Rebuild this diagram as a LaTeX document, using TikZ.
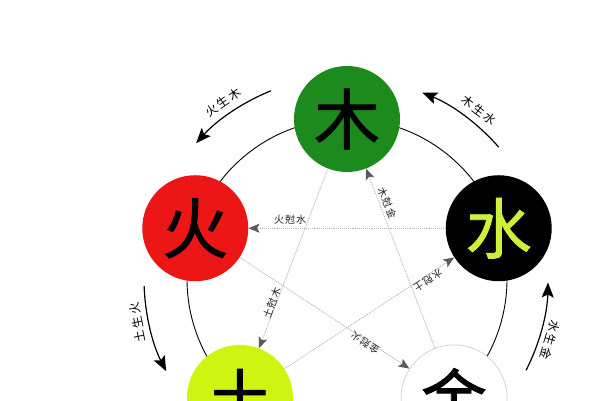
\documentclass[tikz,border=0pt]{standalone}
\usepackage{fontspec}
\newfontfamily\cjk{Noto Sans CJK SC}
\newfontfamily\cjkb{Noto Sans CJK SC}[FakeBold=1.2]
\usetikzlibrary{arrows.meta,calc}
\definecolor{mugreen}{RGB}{28,138,28}
\definecolor{huored}{RGB}{236,22,22}
\definecolor{tuyellow}{RGB}{206,244,18}
\definecolor{shuitext}{RGB}{204,240,60}
\begin{document}
\begin{tikzpicture}[x=1pt,y=1pt,
  element/.style={circle,minimum size=106pt,inner sep=0pt,font=\cjkb\fontsize{66}{66}\selectfont},
  ke/.style={draw=gray!60,densely dotted,line width=0.9pt,-{Stealth[length=11pt,width=9pt,inset=2.5pt,color=gray!70!black]}},
  sheng/.style={line width=1.2pt,-{Stealth[length=15pt,width=12pt,inset=3pt]}},
  kelabel/.style={font=\cjk\fontsize{10}{10}\selectfont,text=gray!25!black,inner sep=0pt},
  shenglabel/.style={font=\cjk\fontsize{12}{12}\selectfont,inner sep=0pt}]
\useasboundingbox (0,0) rectangle (600,400);
\clip (0,0) rectangle (600,400);
\fill[white] (0,0) rectangle (600,400);
\coordinate (C) at (347,121);
\draw[line width=0.9pt] (C) circle[radius=160];
\node[element,fill=mugreen] (mu) at ($(C)+(90:160)$) {木};
\node[element,fill=huored] (huo) at ($(C)+(161.5:160)$) {火};
\node[element,fill=black,text=shuitext] (shui) at ($(C)+(18.5:160)$) {水};
\node[element,fill=tuyellow] (tu) at ($(C)+(228:160)$) {土};
\node[element,fill=white,draw=gray!35,line width=0.8pt] (jin) at ($(C)+(312:160)$) {金};
\draw[ke] (shui) -- (huo);
\draw[ke] (mu) -- (tu);
\draw[ke] (jin) -- (mu);
\draw[ke] (tu) -- (shui);
\draw[ke] (huo) -- (jin);
\node[kelabel] (k1) at (290,180) {火\hspace{1pt}尅\hspace{1pt}水};
\node[kelabel,rotate=69] (k2) at (272,97) {土\hspace{1pt}尅\hspace{1pt}木};
\node[kelabel,rotate=-66.6] (k3) at (387,197) {木\hspace{1pt}尅\hspace{1pt}金};
\node[kelabel,rotate=212.8] (k4) at (428,120) {水\hspace{1pt}尅\hspace{1pt}土};
\node[kelabel,rotate=146.6] (k5) at (365,57) {金\hspace{1pt}尅\hspace{1pt}火};
\draw[sheng] ($(C)+(112:203)$) arc[start angle=112,end angle=138,radius=203];
\draw[sheng] ($(C)+(41:201)$) arc[start angle=41,end angle=68,radius=201];
\draw[sheng] ($(C)+(182:203)$) arc[start angle=182,end angle=207,radius=203];
\draw[sheng] ($(C)+(-27:201)$) arc[start angle=-27,end angle=-1,radius=201];
\node[shenglabel,rotate=35] (s1) at ($(C)+(125:216)$) {火\hspace{2pt}生\hspace{2pt}木};
\node[shenglabel,rotate=-38] (s2) at ($(C)+(52:214)$) {木\hspace{2pt}生\hspace{2pt}水};
\node[shenglabel,rotate=101.7] (s3) at ($(C)+(191.7:214)$) {土\hspace{2pt}生\hspace{2pt}火};
\node[shenglabel,rotate=-106.7] (s4) at ($(C)+(-16.7:212)$) {水\hspace{2pt}生\hspace{2pt}金};
\end{tikzpicture}
\end{document}
